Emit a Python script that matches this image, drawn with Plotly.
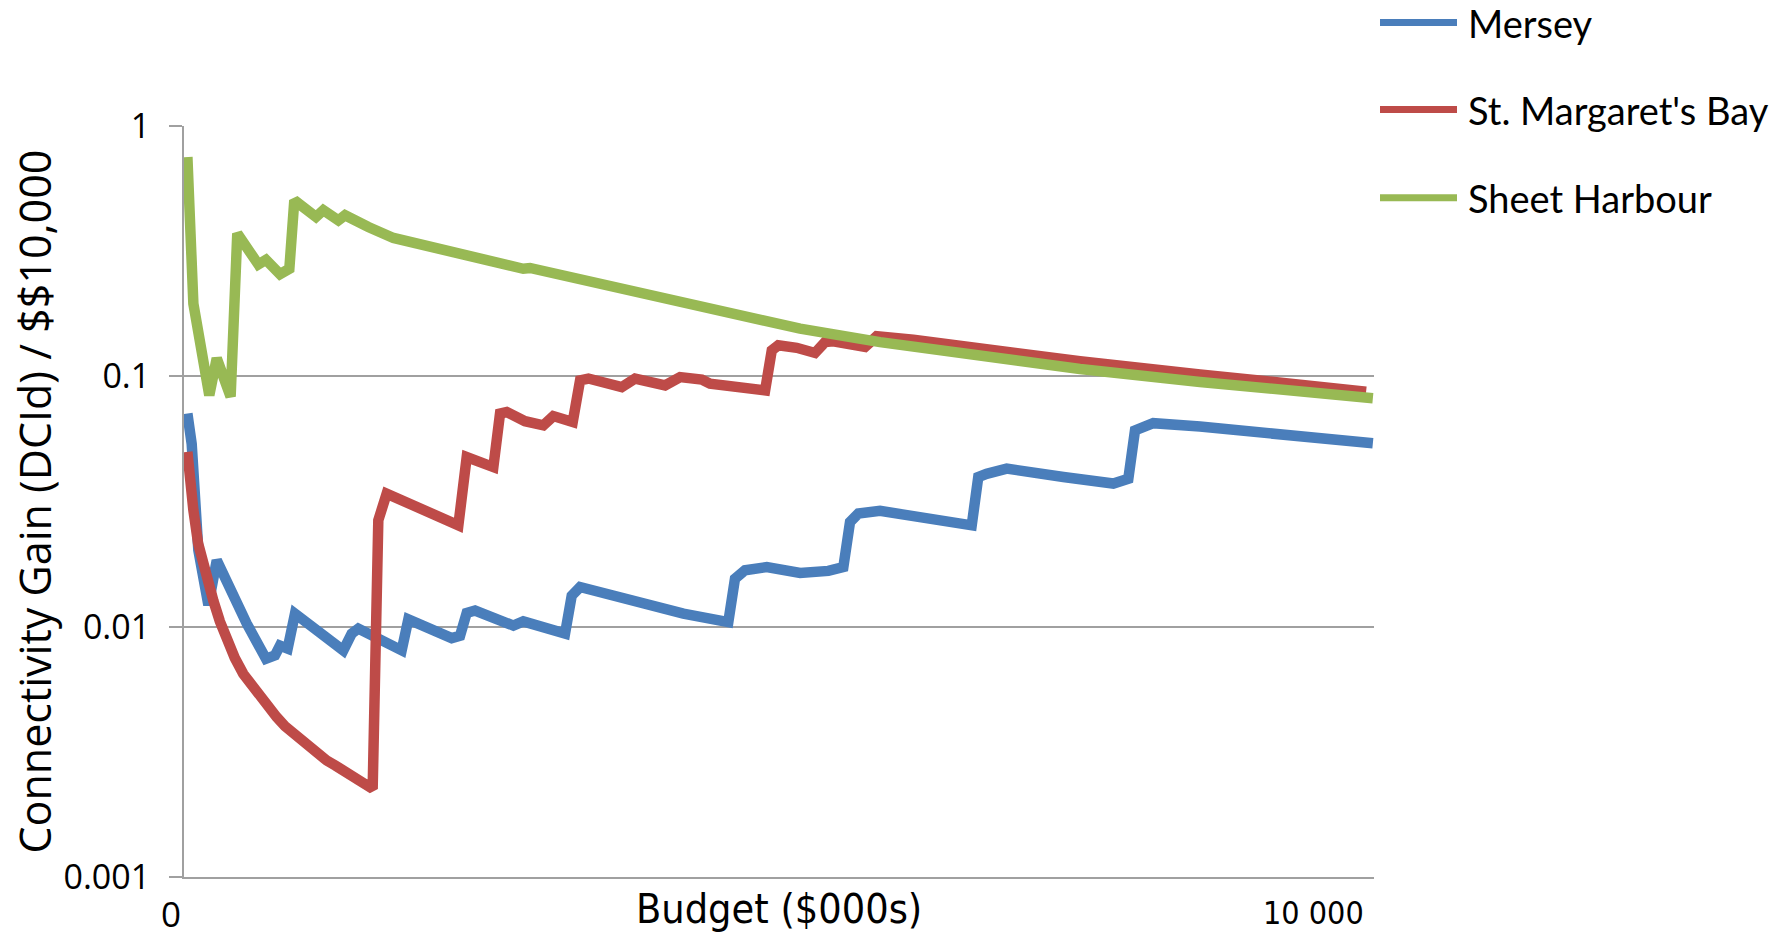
import plotly.graph_objects as go

# Budget in $000s, connectivity gain per $10,000
budget_mersey = [30, 68, 127, 216, 290, 378, 555, 726, 806, 850, 918, 983, 1411, 1485, 1544,
                 1928, 1987, 2371, 2445, 2504, 2578, 2917, 3005, 3375, 3434, 3508, 3980, 4423,
                 4821, 4880, 4969, 5162, 5457, 5707, 5840, 5899, 5973, 6165, 6977, 7035, 7109,
                 7287, 7789, 8231, 8364, 8423, 8585, 8999, 10530]
gain_mersey = [0.071, 0.0538, 0.0202, 0.0122, 0.0184, 0.0151, 0.0103, 0.00745, 0.00768, 0.0084,
               0.00817, 0.01127, 0.00804, 0.00938, 0.00982, 0.00804, 0.0107, 0.009, 0.0092,
               0.01135, 0.0116, 0.0101, 0.0105, 0.00938, 0.0133, 0.0144, 0.01254, 0.01127,
               0.01043, 0.01555, 0.0168, 0.0173, 0.0164, 0.0167, 0.0173, 0.0262, 0.0283, 0.029,
               0.0254, 0.0396, 0.0408, 0.0428, 0.0396, 0.0373, 0.039, 0.0608, 0.065, 0.063, 0.054]

budget_smb = [30, 50, 83, 125, 172, 215, 260, 318, 378, 450, 525, 600, 673, 750, 821, 895,
              968, 1040, 1116, 1190, 1264, 1340, 1411, 1485, 1559, 1671, 1721,
              1795, 2430, 2504, 2740, 2799, 2858, 3020, 3183, 3271, 3443, 3508, 3582, 3877,
              3995, 4261, 4394, 4586, 4659, 4969, 5147, 5206, 5264, 5427, 5589, 5678, 5751,
              6032, 6135, 6460, 7051, 7936, 8999, 10470]
gain_smb = [0.0499, 0.038, 0.0292, 0.0215, 0.0173, 0.0148, 0.0127, 0.0105, 0.0088, 0.0075,
            0.00648, 0.0058, 0.00523, 0.00475, 0.00435, 0.004, 0.00374, 0.0035, 0.0033,
            0.0031, 0.00292, 0.00279, 0.00267, 0.00255, 0.00243, 0.00225, 0.0266, 0.034,
            0.0254, 0.0476, 0.0434, 0.071, 0.072, 0.0662, 0.0637, 0.0694, 0.0657, 0.0964,
            0.098, 0.0906, 0.098, 0.092, 0.0993, 0.097, 0.0935, 0.0893, 0.0879, 0.127, 0.133,
            0.130, 0.124, 0.137, 0.138, 0.131, 0.1445, 0.14, 0.129, 0.115, 0.1018, 0.0869]

budget_sheet = [30, 83, 224, 290, 413, 472, 658, 726, 850, 933, 977, 1169, 1234, 1367, 1426,
                1500, 1633, 1855, 1914, 2003, 2170, 2570, 3005, 3065, 3478, 3833, 4276,
                4719, 5162, 5457, 6165, 7051, 7936, 8999, 10530]
gain_sheet = [0.752, 0.195, 0.084, 0.118, 0.083, 0.372, 0.28, 0.292, 0.256, 0.269, 0.505, 0.433,
              0.461, 0.42, 0.44, 0.427, 0.395, 0.357, 0.352, 0.34, 0.326, 0.297, 0.269,
              0.271, 0.246, 0.227, 0.204, 0.184, 0.167, 0.155, 0.137, 0.121, 0.107, 0.095,
              0.0818]

series_names = ["Mersey", "St. Margaret's Bay", "Sheet Harbour"]
series_colors = ["#4a7ebb", "#be4b48", "#98b954"]

y_tick_vals = [0.001, 0.01, 0.1, 1]
y_tick_text = ["0.001", "0.01", "0.1", "1"]
x_tick_vals = [0, 10000]
x_tick_text = ["0", "10 000"]

W, H = 1771, 937
L, R, T, B = 184, 1374, 126, 877


def fx(px):
    return (px - L) / (R - L)


def fy(py):
    return (B - py) / (B - T)


fig = go.Figure()
for name, xs, ys, col in zip(series_names,
                             [budget_mersey, budget_smb, budget_sheet],
                             [gain_mersey, gain_smb, gain_sheet],
                             series_colors):
    fig.add_trace(go.Scatter(x=xs, y=ys, mode="lines", name=name,
                             line=dict(color=col, width=10.5), showlegend=False))

grid = "#a0a0a0"
fig.update_layout(
    width=W, height=H, autosize=False,
    margin=dict(l=L, r=W - R, t=T, b=H - B, autoexpand=False),
    paper_bgcolor="white", plot_bgcolor="white",
    xaxis=dict(range=[0, 10540], showgrid=False, zeroline=False, showline=True,
               linecolor=grid, linewidth=2, showticklabels=False, ticks=""),
    yaxis=dict(type="log", range=[-3, 0], tickvals=y_tick_vals, ticktext=y_tick_text,
               showgrid=True, gridcolor=grid, gridwidth=2, zeroline=False,
               showline=True, linecolor=grid, linewidth=2,
               ticks="outside", ticklen=13, tickwidth=2, tickcolor=grid,
               ticklabelstandoff=12,
               tickfont=dict(family="Open Sans", size=34, color="black")),
)

# x tick labels
x_shift = [-13, 0]
x_fonts = [dict(family="Open Sans", size=35, color="black"),
           dict(family="Liberation Sans Narrow, DejaVu Sans Condensed", size=32, color="black")]
for v, t, s, f in zip(x_tick_vals, x_tick_text, x_shift, x_fonts):
    fig.add_annotation(x=v, y=fy(913), xref="x", yref="paper", text=t, showarrow=False,
                       xanchor="center", yanchor="middle", xshift=s, font=f)

fig.add_annotation(x=0.5, y=fy(909), xref="paper", yref="paper", text="Budget ($000s)",
                   showarrow=False, xanchor="center", yanchor="middle",
                   font=dict(family="Liberation Sans Narrow, DejaVu Sans Condensed", size=41,
                             color="black"))

fig.add_annotation(x=fx(34), y=0.5, xref="paper", yref="paper",
                   text="Connectivity Gain (DCId) / $$10,000", textangle=-90,
                   showarrow=False, xanchor="center", yanchor="middle",
                   font=dict(family="Open Sans", size=43, color="black"))

# legend
legend_y = [22.6, 109.6, 197.7]
for name, col, py in zip(series_names, series_colors, legend_y):
    fig.add_shape(type="line", xref="paper", yref="paper", x0=fx(1380), x1=fx(1457),
                  y0=fy(py), y1=fy(py), line=dict(color=col, width=7))
    fig.add_annotation(x=fx(1466), y=fy(py), xref="paper", yref="paper", text=name,
                       showarrow=False, xanchor="left", yanchor="middle",
                       font=dict(family="Lato", size=38, color="black"))

fig.write_html("out.html")
